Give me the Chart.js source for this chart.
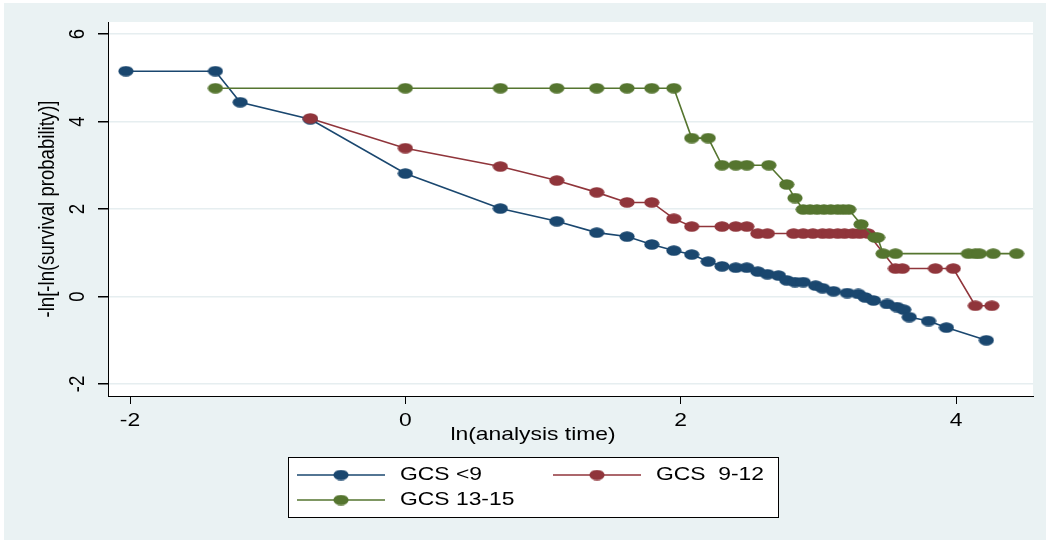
<!DOCTYPE html>
<html>
<head>
<meta charset="utf-8">
<script src="https://cdn.jsdelivr.net/npm/chart.js@4.4.1/dist/chart.umd.min.js"></script>
<style>
  body { margin: 0; background: #ffffff; }
  canvas { display: block; }
</style>
</head>
<body>
<canvas id="llCanvas" width="1050" height="543"></canvas>
<script>
// ln(analysis time) and -ln[-ln(S)] per GCS group
const lnTimeLow = [-2.03, -1.38, -1.20, -0.69, 0, 0.69, 1.10, 1.39, 1.61, 1.79, 1.95, 2.08, 2.20, 2.30, 2.40, 2.48, 2.56, 2.63, 2.71, 2.77, 2.83, 2.89, 2.98, 3.03, 3.11, 3.21, 3.29, 3.34, 3.40, 3.50, 3.57, 3.62, 3.66, 3.80, 3.93, 4.22];
const survLow = [5.15, 5.15, 4.44, 4.05, 2.81, 2.01, 1.72, 1.46, 1.37, 1.19, 1.05, 0.96, 0.80, 0.69, 0.66, 0.66, 0.57, 0.51, 0.48, 0.37, 0.33, 0.33, 0.25, 0.19, 0.12, 0.08, 0.06, -0.02, -0.09, -0.17, -0.24, -0.30, -0.47, -0.56, -0.71, -1.00];

const lnTimeMid = [-0.69, 0, 0.69, 1.10, 1.39, 1.61, 1.79, 1.95, 2.08, 2.30, 2.40, 2.48, 2.56, 2.63, 2.82, 2.89, 2.96, 3.03, 3.08, 3.14, 3.19, 3.25, 3.30, 3.36, 3.56, 3.61, 3.85, 3.98, 4.14, 4.26];
const survMid = [4.07, 3.39, 2.97, 2.65, 2.38, 2.15, 2.15, 1.78, 1.60, 1.60, 1.60, 1.60, 1.44, 1.44, 1.44, 1.44, 1.44, 1.44, 1.44, 1.44, 1.44, 1.44, 1.44, 1.44, 0.64, 0.64, 0.64, 0.64, -0.21, -0.21];

const lnTimeHigh = [-1.38, 0, 0.69, 1.10, 1.39, 1.61, 1.79, 1.95, 2.08, 2.20, 2.30, 2.40, 2.48, 2.64, 2.77, 2.83, 2.89, 2.94, 2.99, 3.04, 3.09, 3.14, 3.18, 3.22, 3.31, 3.41, 3.43, 3.47, 3.56, 4.09, 4.14, 4.17, 4.27, 4.44];
const survHigh = [4.76, 4.76, 4.76, 4.76, 4.76, 4.76, 4.76, 4.76, 3.62, 3.62, 3.00, 3.00, 3.00, 3.00, 2.56, 2.25, 1.99, 1.99, 1.99, 1.99, 1.99, 1.99, 1.99, 1.99, 1.65, 1.35, 1.35, 0.98, 0.98, 0.98, 0.98, 0.98, 0.98, 0.98];

const groupNames = ["GCS <9", "GCS  9-12", "GCS 13-15"];
const groupColors = ["#1a476f", "#90353b", "#55752f"];
const xTicks = [-2, 0, 2, 4];
const yTicks = [-2, 0, 2, 4, 6];
const xTitle = "ln(analysis time)";
const yTitle = "-ln[-ln(survival probability)]";

const FONT = "18.6px 'Liberation Sans', Arial, sans-serif";
const STRETCH = 1.23; // the picture is wider than tall

function pairs(xs, ys) {
    return xs.map((x, i) => ({ x: x, y: ys[i] }));
}

// oval marker
function ovalMarker(color) {
    const c = document.createElement("canvas");
    c.width = 16;
    c.height = 11;
    const g = c.getContext("2d");
    g.fillStyle = color;
    g.beginPath();
    g.ellipse(8, 5.5, 7.6, 5.2, 0, 0, Math.PI * 2);
    g.fill();
    return c;
}

function stretchedText(ctx, text, x, y, align, rotate) {
    ctx.save();
    ctx.translate(x, y);
    ctx.scale(STRETCH, 1);
    if (rotate) ctx.rotate(-Math.PI / 2);
    ctx.textAlign = align;
    ctx.textBaseline = "middle";
    ctx.fillText(text, 0, 0);
    ctx.restore();
}

const backdrop = {
    id: "backdrop",
    beforeDraw(chart) {
        const ctx = chart.ctx;
        const a = chart.chartArea;
        ctx.save();
        ctx.fillStyle = "#eaf2f3";
        ctx.fillRect(4, 3, chart.width - 8, chart.height - 6);
        ctx.fillStyle = "#ffffff";
        ctx.fillRect(a.left, a.top, a.right - a.left, a.bottom - a.top);
        ctx.restore();
    }
};

const labels = {
    id: "labels",
    afterDraw(chart) {
        const ctx = chart.ctx;
        const xs = chart.scales.x;
        const ys = chart.scales.y;
        ctx.save();
        ctx.font = FONT;
        ctx.fillStyle = "#000000";

        xTicks.forEach(t => stretchedText(ctx, String(t), xs.getPixelForValue(t), 421, "center", false));
        yTicks.forEach(t => stretchedText(ctx, String(t), 78, ys.getPixelForValue(t), "center", true));

        stretchedText(ctx, xTitle, 533, 435, "center", false);
        stretchedText(ctx, yTitle, 48, 209, "center", true);

        // legend box
        ctx.fillStyle = "#ffffff";
        ctx.fillRect(288, 457, 490, 60);
        ctx.strokeStyle = "#000000";
        ctx.lineWidth = 1;
        ctx.strokeRect(288.5, 457.5, 490, 60);

        const spots = [[297, 475], [553, 475], [297, 500]];
        groupNames.forEach((name, i) => {
            const [lx, ly] = spots[i];
            ctx.strokeStyle = groupColors[i];
            ctx.lineWidth = 1.5;
            ctx.beginPath();
            ctx.moveTo(lx, ly);
            ctx.lineTo(lx + 88, ly);
            ctx.stroke();
            ctx.drawImage(ovalMarker(groupColors[i]), lx + 36, ly - 5.5);
            ctx.fillStyle = "#000000";
            stretchedText(ctx, name, lx + 103, ly, "left", false);
        });
        ctx.restore();
    }
};

const llChart = new Chart(document.getElementById("llCanvas"), {
    type: "line",
    data: {
        datasets: [
            { label: groupNames[0], data: pairs(lnTimeLow, survLow), order: 2 },
            { label: groupNames[1], data: pairs(lnTimeMid, survMid), order: 1 },
            { label: groupNames[2], data: pairs(lnTimeHigh, survHigh), order: 0 }
        ].map((d, i) => Object.assign(d, {
            borderColor: groupColors[i],
            backgroundColor: groupColors[i],
            borderWidth: 1.6,
            tension: 0,
            pointStyle: ovalMarker(groupColors[i]),
            pointHoverRadius: 6
        }))
    },
    options: {
        responsive: false,
        animation: false,
        devicePixelRatio: 1,
        layout: { padding: { top: 22, right: 17, left: 0, bottom: 0 } },
        plugins: {
            legend: { display: false },
            tooltip: { enabled: false }
        },
        scales: {
            x: {
                type: "linear",
                min: -2.16,
                max: 4.559,
                afterFit: s => { s.height = 147; },
                ticks: { display: false, stepSize: 2, includeBounds: false },
                grid: { drawOnChartArea: false, drawTicks: true, tickLength: 8, tickColor: "#000000" },
                border: { color: "#000000", width: 1 }
            },
            y: {
                min: -2.274,
                max: 6.274,
                afterFit: s => { s.width = 108; },
                ticks: { display: false, stepSize: 2, includeBounds: false },
                grid: { color: "#e6eef0", lineWidth: 1.5, drawTicks: true, tickLength: 10, tickColor: "#000000" },
                border: { color: "#000000", width: 1 }
            }
        }
    },
    plugins: [backdrop, labels]
});
</script>
</body>
</html>
